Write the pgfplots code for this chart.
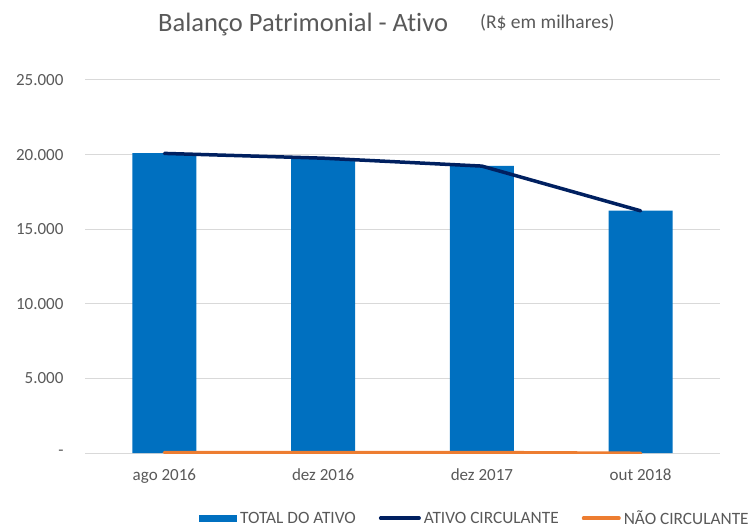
\documentclass[border=0pt]{standalone}
\usepackage{pgfplots}
\pgfplotsset{compat=1.18}
\usepackage{fontspec}
\setmainfont{Carlito}[Ligatures={NoCommon}]
\definecolor{barblue}{HTML}{0070C0}
\definecolor{navy}{HTML}{002060}
\definecolor{orng}{HTML}{ED7D31}
\definecolor{txt}{HTML}{595959}
\definecolor{gridc}{HTML}{D9D9D9}
\begin{document}
\begin{tikzpicture}
\path[use as bounding box] (0,0) rectangle (756bp,526bp);
\node[anchor=base west, text=txt, inner sep=0pt, font=\fontsize{26.5bp}{30bp}\selectfont] at (158bp,494bp) {Balanço Patrimonial - Ativo};
\node[anchor=base west, text=txt, inner sep=0pt, font=\fontsize{19.5bp}{23bp}\selectfont] at (480bp,497bp) {(R\$ em milhares)};
\begin{axis}[
  at={(85bp,73bp)}, anchor=south west,
  scale only axis, width=635bp, height=373bp,
  xmin=-0.5, xmax=3.5, ymin=0, ymax=25000,
  scaled y ticks=false,
  axis line style={draw=none},
  tick style={draw=none},
  ymajorgrids, grid style={gridc, line width=1bp},
  ytick={0,5000,10000,15000,20000,25000},
  yticklabels={-\hspace{8bp},5.000,10.000,15.000,20.000,25.000},
  xtick={0,1,2,3},
  xticklabels={ago 2016,dez 2016,dez 2017,out 2018},
  /pgf/number format/assume math mode=true,
  ticklabel style={text=txt, font=\fontsize{17bp}{20bp}\selectfont},
  y tick label style={xshift=-18bp},
  x tick label style={yshift=-12bp},
  legend columns=3,
  legend style={at={(0.1795,-0.1756)}, anchor=west, draw=none, fill=none, inner sep=0pt,
    font=\fontsize{17.3bp}{19bp}\selectfont, text=txt,
    nodes={inner sep=0pt},
    /tikz/every odd column/.append style={column sep=3bp},
    /tikz/every even column/.append style={column sep=23bp}},
]
\addplot[ybar, bar width=64bp, fill=barblue, draw=none,
  legend image code/.code={\fill[barblue] (0bp,-3.5bp) rectangle (38bp,3.5bp);}]
  coordinates {(0,20100) (1,19750) (2,19250) (3,16250)};
\addlegendentry{TOTAL DO ATIVO}
\addplot[navy, line width=3.5bp, line cap=round, line join=round,
  legend image code/.code={\draw[navy, line width=3.5bp, line cap=round] (1.75bp,0) -- (40.25bp,0);}]
  coordinates {(0,20080) (1,19760) (2,19230) (3,16230)};
\addlegendentry{ATIVO CIRCULANTE}
\addplot[orng, line width=3.5bp, line cap=round, line join=round,
  legend image code/.code={\draw[orng, line width=3.5bp, line cap=round] (1.75bp,0) -- (37.25bp,0);}]
  coordinates {(0,30) (1,30) (2,30) (3,-20)};
\addlegendentry{NÃO CIRCULANTE}
\end{axis}
\end{tikzpicture}
\end{document}
